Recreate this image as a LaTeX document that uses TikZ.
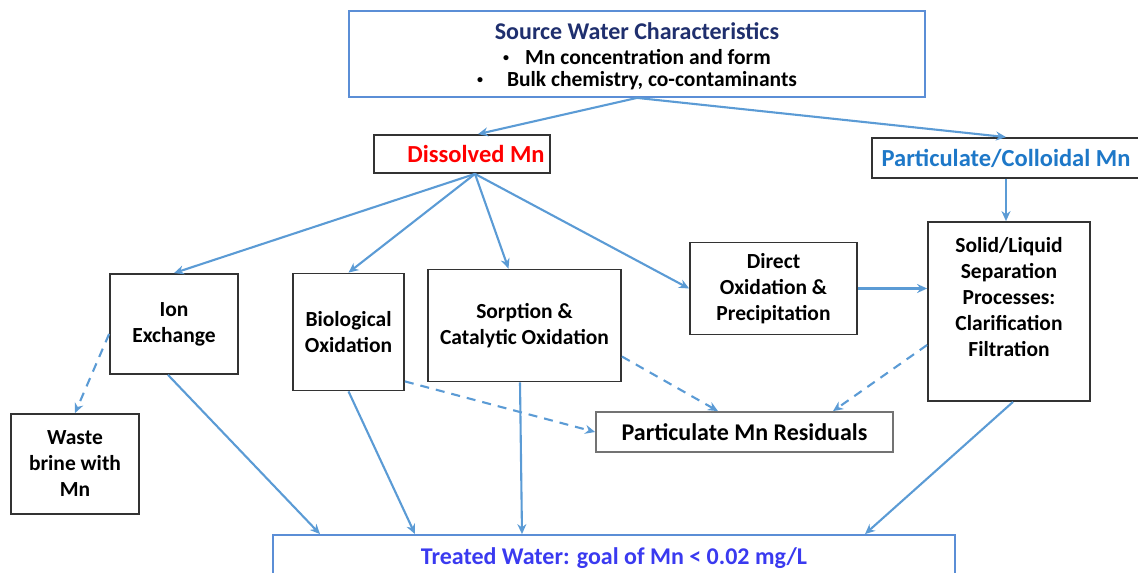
\documentclass[tikz,border=0pt]{standalone}
\usepackage{fontspec}
\setmainfont{Carlito}
\usetikzlibrary{calc,positioning,arrows.meta}

\definecolor{linkblue}{HTML}{5B9BD5}
\definecolor{framblue}{HTML}{5B8ED6}
\definecolor{navytxt}{HTML}{1F2F6E}
\definecolor{partblue}{HTML}{1E78C8}
\definecolor{treatblue}{HTML}{3A3AF0}

\newcommand{\smallbul}{\raisebox{2.5pt}{\fontsize{12}{12}\selectfont\textbullet}}

\tikzset{
    procbox/.style={draw=black!80,line width=1.8pt,fill=white,align=center,
        inner sep=0pt,font=\bfseries\fontsize{21.5}{26}\selectfont},
    link/.style={draw=linkblue,line width=2.1pt,-{Stealth[length=10pt,width=9pt]}},
    dlink/.style={link,dash pattern=on 9pt off 7pt}
}

\begin{document}
\begin{tikzpicture}[x=1pt,y=-1pt]
    \useasboundingbox (0,0) rectangle (1138,573);

    \node[procbox,draw=framblue,minimum width=576,minimum height=86,
        font=\bfseries\fontsize{21.5}{22}\selectfont] (source) at (637,54)
        {{\color{navytxt}\fontsize{24}{26}\selectfont\rule{0pt}{21pt}Source Water Characteristics}\\[3pt]
         \smallbul\hspace{16pt}Mn concentration and form\\
         \smallbul\hspace{24pt}Bulk chemistry, co-contaminants};

    \node[procbox,minimum width=176,minimum height=38,text=red,
        font=\bfseries\fontsize{24.5}{26}\selectfont] (dissolved) at (462,154)
        {\hspace*{28pt}Dissolved Mn};
    \node[procbox,minimum width=268,minimum height=40,text=partblue,
        font=\bfseries\fontsize{24.5}{26}\selectfont] (partic) at (1006,158)
        {Particulate/Colloidal Mn};

    \node[procbox,minimum width=128,minimum height=100] (ionex) at (174,324)
        {Ion\\Exchange};
    \node[procbox,minimum width=111,minimum height=117] (biolog) at (348.5,332)
        {Biological\\Oxidation};
    \node[procbox,minimum width=193,minimum height=112] (sorption) at (524.5,325.5)
        {Sorption \&\\Catalytic Oxidation};
    \node[procbox,minimum width=167,minimum height=92] (direct) at (773.5,288.5)
        {Direct\\Oxidation \&\\Precipitation};
    \node[procbox,minimum width=162,minimum height=179] (solid) at (1009,311.5)
        {Solid/Liquid\\Separation\\Processes:\\Clarification\\Filtration\\[3pt]};

    \node[procbox,draw=black!55,minimum width=297,minimum height=40,
        font=\bfseries\fontsize{24}{26}\selectfont] (residual) at (744.5,432)
        {Particulate Mn Residuals};
    \node[procbox,minimum width=128,minimum height=100] (waste) at (75,464)
        {Waste\\brine with\\Mn};
    \node[procbox,draw=framblue,minimum width=682,minimum height=66,text=treatblue,
        font=\bfseries\fontsize{24}{26}\selectfont,text depth=23pt] (treated) at (614,568)
        {Treated Water: goal of Mn < 0.02 mg/L};

    % from the source
    \draw[link] (source.south) -- ([xshift=16pt]dissolved.north);
    \draw[link] (source.south) -- (partic.north);

    % dissolved routes
    \draw[link] ([xshift=13pt]dissolved.south) -- (ionex.north);
    \draw[link] ([xshift=13pt]dissolved.south) -- (biolog.north);
    \draw[link] ([xshift=13pt]dissolved.south) -- ([xshift=-16pt]sorption.north);
    \draw[link] ([xshift=13pt]dissolved.south) -- (direct.west);

    % particulate route
    \draw[link] (partic.south) -- (partic.south |- solid.north);
    \draw[link] (direct.east) -- (direct.east -| solid.west);

    % residual streams
    \draw[dlink] ([yshift=-10pt]ionex.west) -- (waste.north);
    \draw[dlink] ([yshift=10pt]biolog.south east) -- (residual.west);
    \draw[dlink] ([yshift=-31pt]sorption.east) -- ([xshift=-26.5pt]residual.north);
    \draw[dlink] ([yshift=-33.5pt]solid.west) -- ([xshift=88.5pt]residual.north);

    % to treated water
    \draw[link] ([xshift=-6pt]ionex.south) -- ([xshift=-294pt]treated.north);
    \draw[link] (biolog.south) -- ([xshift=-199pt]treated.north);
    \draw[link] ([xshift=-4.5pt]sorption.south) -- ([xshift=-92pt]treated.north);
    \draw[link] ([xshift=4pt]solid.south) -- ([xshift=251pt]treated.north);
\end{tikzpicture}
\end{document}
